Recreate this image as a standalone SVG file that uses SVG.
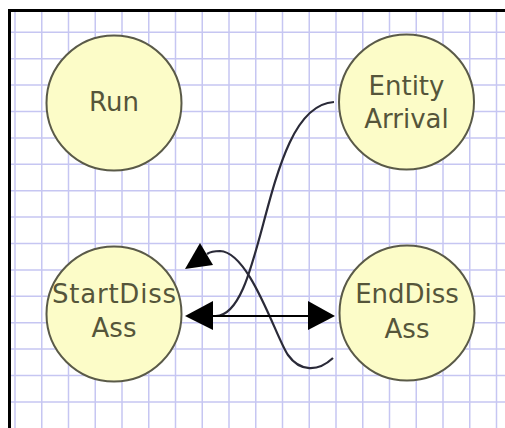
<svg xmlns="http://www.w3.org/2000/svg" width="505" height="428" viewBox="0 0 505 428">
<style>
.grid line{stroke:#c6c6f2;stroke-width:1.5}
.node circle{fill:#fcfcc8;stroke:#5a5a48;stroke-width:2}
.node text{font-family:"DejaVu Sans",Verdana,sans-serif;font-size:26px;fill:#55553a;text-anchor:middle}
.conn path{fill:none;stroke:#2a2a38;stroke-width:2.2}
.conn line{stroke:#000;stroke-width:2.2}
.conn polygon{fill:#000}
</style>
<rect width="505" height="428" fill="#fff"/>
<g class="grid">
<line x1="15" y1="11" x2="15" y2="428"/>
<line x1="41.75" y1="11" x2="41.75" y2="428"/>
<line x1="68.5" y1="11" x2="68.5" y2="428"/>
<line x1="95.25" y1="11" x2="95.25" y2="428"/>
<line x1="122" y1="11" x2="122" y2="428"/>
<line x1="148.75" y1="11" x2="148.75" y2="428"/>
<line x1="175.5" y1="11" x2="175.5" y2="428"/>
<line x1="202.25" y1="11" x2="202.25" y2="428"/>
<line x1="229" y1="11" x2="229" y2="428"/>
<line x1="255.75" y1="11" x2="255.75" y2="428"/>
<line x1="282.5" y1="11" x2="282.5" y2="428"/>
<line x1="309.25" y1="11" x2="309.25" y2="428"/>
<line x1="336" y1="11" x2="336" y2="428"/>
<line x1="362.75" y1="11" x2="362.75" y2="428"/>
<line x1="389.5" y1="11" x2="389.5" y2="428"/>
<line x1="416.25" y1="11" x2="416.25" y2="428"/>
<line x1="443" y1="11" x2="443" y2="428"/>
<line x1="469.75" y1="11" x2="469.75" y2="428"/>
<line x1="496.5" y1="11" x2="496.5" y2="428"/>
<line x1="10" y1="32.3" x2="505" y2="32.3"/>
<line x1="10" y1="58.7" x2="505" y2="58.7"/>
<line x1="10" y1="85.1" x2="505" y2="85.1"/>
<line x1="10" y1="111.5" x2="505" y2="111.5"/>
<line x1="10" y1="137.9" x2="505" y2="137.9"/>
<line x1="10" y1="164.3" x2="505" y2="164.3"/>
<line x1="10" y1="190.7" x2="505" y2="190.7"/>
<line x1="10" y1="217.1" x2="505" y2="217.1"/>
<line x1="10" y1="243.5" x2="505" y2="243.5"/>
<line x1="10" y1="269.9" x2="505" y2="269.9"/>
<line x1="10" y1="296.3" x2="505" y2="296.3"/>
<line x1="10" y1="322.7" x2="505" y2="322.7"/>
<line x1="10" y1="349.1" x2="505" y2="349.1"/>
<line x1="10" y1="375.5" x2="505" y2="375.5"/>
<line x1="10" y1="401.9" x2="505" y2="401.9"/>
</g>
<path d="M9.5,428 V10.5 H505" fill="none" stroke="#000" stroke-width="3"/>
<g id="node-run" class="node">
<circle cx="114" cy="103" r="67.5"/>
<text x="114" y="111">Run</text>
</g>
<g id="node-entity-arrival" class="node">
<circle cx="406.5" cy="102" r="67.5"/>
<text x="406.5" y="95">Entity</text>
<text x="406.5" y="128">Arrival</text>
</g>
<g id="node-startdissass" class="node">
<circle cx="114" cy="314" r="67.5"/>
<text x="114" y="303" textLength="124" lengthAdjust="spacing">StartDiss</text>
<text x="114" y="337">Ass</text>
</g>
<g id="node-enddissass" class="node">
<circle cx="407" cy="313" r="67.5"/>
<text x="407" y="303">EndDiss</text>
<text x="407" y="338">Ass</text>
</g>
<g id="connectors" class="conn">
<path d="M334,102 C262,106 266,318 215,316"/>
<path d="M333,358 C318,372 300,372 288,355 C276,338 250,252 220,251 C214,251 210,252 207,254"/>
<line x1="212" y1="316" x2="310" y2="316"/>
<polygon points="185,316 213,301 213,330"/>
<polygon points="335,316 308,301 308,330"/>
<polygon points="200,243 185,269 213,265"/>
</g>
</svg>
